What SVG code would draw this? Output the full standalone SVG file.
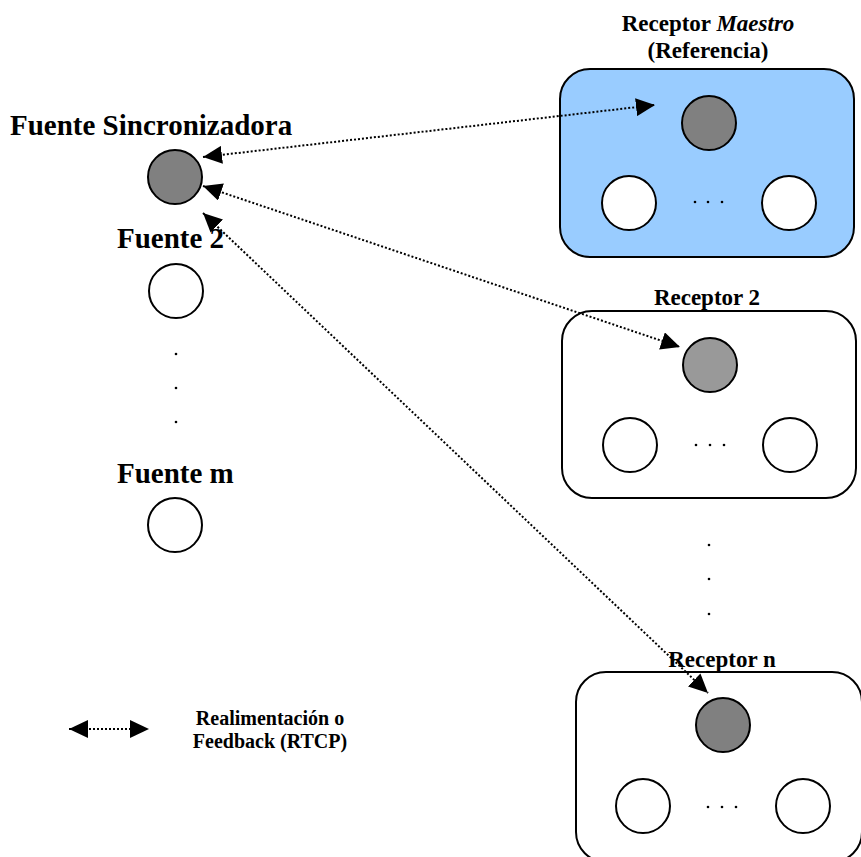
<svg xmlns="http://www.w3.org/2000/svg" width="861" height="857" viewBox="0 0 861 857">
<defs>
<style>
text{font-family:"Liberation Serif","Times New Roman",serif;font-weight:bold;fill:#000}
.big{font-size:29px}
.mid{font-size:23px}
.sm{font-size:20px}
.node{stroke:#000;stroke-width:2}
.dk{fill:#808080}
.lt{fill:#999999}
.wh{fill:#fff}
.box{fill:#fff;stroke:#000;stroke-width:2}
.conn{stroke:#000;stroke-width:2;stroke-dasharray:2 2;fill:none}
.dot{fill:#000}
</style>
<marker id="ah" viewBox="0 0 19 18" refX="19" refY="9" markerWidth="19" markerHeight="18" markerUnits="userSpaceOnUse" orient="auto-start-reverse">
<path d="M0,0 L19,9 L0,18 z" fill="#000"/>
</marker>
</defs>
<rect width="861" height="857" fill="#fff"/>

<g id="fuente-sync">
<text class="big" x="10" y="135">Fuente Sincronizadora</text>
<circle class="node dk" cx="175" cy="177" r="27"/>
</g>
<g id="fuente-2">
<text class="big" x="117" y="248">Fuente 2</text>
<circle class="node wh" cx="176" cy="291" r="27"/>
</g>
<g id="fuente-dots">
<circle class="dot" cx="176" cy="354" r="1.3"/>
<circle class="dot" cx="176" cy="388" r="1.3"/>
<circle class="dot" cx="176" cy="422" r="1.3"/>
</g>
<g id="fuente-m">
<text class="big" x="117" y="483">Fuente m</text>
<circle class="node wh" cx="175" cy="525" r="27"/>
</g>

<g id="receptor-maestro">
<text class="mid" x="708" y="31" text-anchor="middle">Receptor <tspan font-style="italic">Maestro</tspan></text>
<text class="mid" x="708" y="58" text-anchor="middle">(Referencia)</text>
<rect class="box" x="560" y="69" width="294" height="188" rx="30" style="fill:#99CCFF"/>
<circle class="node dk" cx="709" cy="123" r="27"/>
<circle class="node wh" cx="629" cy="203" r="27"/>
<circle class="node wh" cx="789" cy="203" r="27"/>
<circle class="dot" cx="695" cy="202" r="1.3"/>
<circle class="dot" cx="708" cy="202" r="1.3"/>
<circle class="dot" cx="722" cy="202" r="1.3"/>
</g>

<g id="receptor-2">
<text class="mid" x="707" y="305" text-anchor="middle">Receptor  2</text>
<rect class="box" x="562" y="311" width="294" height="187" rx="30"/>
<circle class="node lt" cx="710" cy="365" r="27"/>
<circle class="node wh" cx="630" cy="445" r="27"/>
<circle class="node wh" cx="790" cy="445" r="27"/>
<circle class="dot" cx="696" cy="445" r="1.3"/>
<circle class="dot" cx="710" cy="445" r="1.3"/>
<circle class="dot" cx="724" cy="445" r="1.3"/>
</g>

<g id="receptor-dots">
<circle class="dot" cx="709" cy="545" r="1.3"/>
<circle class="dot" cx="709" cy="579" r="1.3"/>
<circle class="dot" cx="709" cy="614" r="1.3"/>
</g>

<g id="receptor-n">
<rect class="box" x="576" y="672" width="286" height="190" rx="30"/>
<circle class="node dk" cx="723" cy="725" r="27"/>
<circle class="node wh" cx="643" cy="806" r="27"/>
<circle class="node wh" cx="803" cy="806" r="27"/>
<circle class="dot" cx="708" cy="807" r="1.3"/>
<circle class="dot" cx="722" cy="807" r="1.3"/>
<circle class="dot" cx="736" cy="807" r="1.3"/>
</g>

<g id="connectors">
<line class="conn" x1="203" y1="157" x2="655" y2="105" marker-start="url(#ah)" marker-end="url(#ah)"/>
<line class="conn" x1="203" y1="186" x2="680" y2="347" marker-start="url(#ah)" marker-end="url(#ah)"/>
<line class="conn" x1="203" y1="213" x2="708" y2="693" marker-start="url(#ah)" marker-end="url(#ah)"/>
</g>

<g id="receptor-n-label">
<text class="mid" x="722" y="667" text-anchor="middle">Receptor n</text>
</g>

<g id="legend">
<line class="conn" x1="69" y1="729" x2="149" y2="729" marker-start="url(#ah)" marker-end="url(#ah)"/>
<text class="sm" x="270" y="725" text-anchor="middle">Realimentación o</text>
<text class="sm" x="270" y="748" text-anchor="middle">Feedback (RTCP)</text>
</g>
</svg>
